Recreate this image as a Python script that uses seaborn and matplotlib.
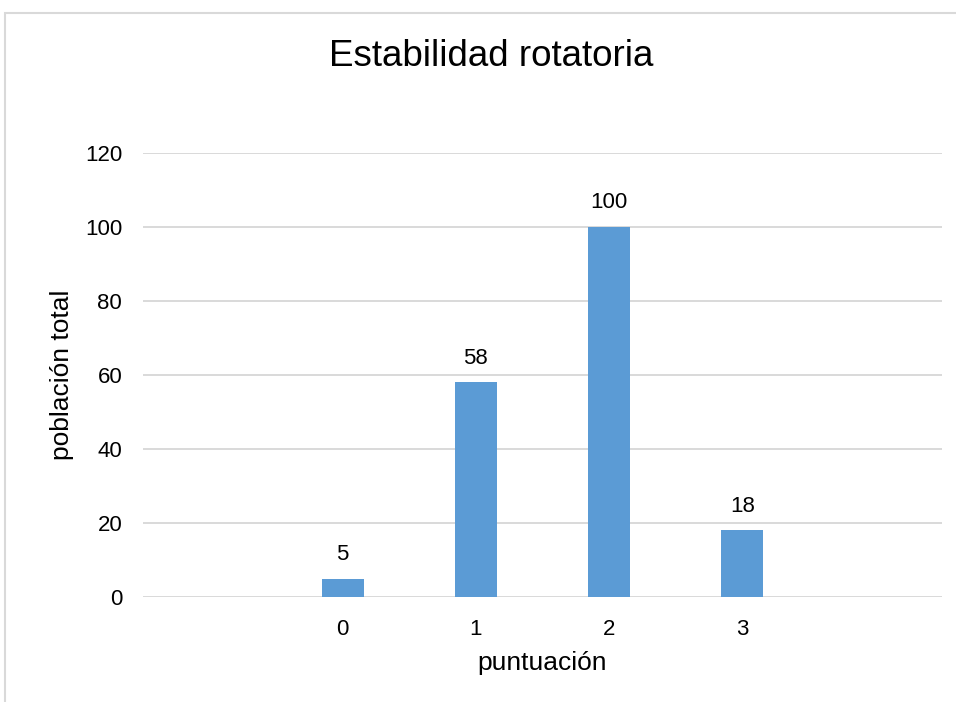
import numpy as np
import pandas as pd
import matplotlib
matplotlib.use("Agg")
import matplotlib.pyplot as plt
from matplotlib.patches import Rectangle
import seaborn as sns

# Scores (blank categories pad the axis on both sides) and population counts
categories = ["", "0", "1", "2", "3", " "]
counts = [np.nan, 5, 58, 100, 18, np.nan]
y_ticks = [0, 20, 40, 60, 80, 100, 120]

sns.set_theme(style="white")
plt.rcParams["font.family"] = ["Liberation Sans", "DejaVu Sans"]

df = pd.DataFrame({"puntuacion": categories, "poblacion": counts})

fig = plt.figure(figsize=(9.56, 7.02), dpi=100)
ax = fig.add_axes([143 / 956, 1 - 597 / 702, (942 - 143) / 956, (597 - 153) / 702])

sns.barplot(data=df, x="puntuacion", y="poblacion", order=categories,
            color="#5b9bd5", saturation=1, width=0.315, linewidth=0, ax=ax)

ax.set_ylim(0, 120)
ax.set_xlim(-0.5, len(categories) - 0.5)
ax.set_yticks(y_ticks)
ax.yaxis.grid(True, color="#d9d9d9", linewidth=1.4)
ax.set_axisbelow(True)
for s in ax.spines.values():
    s.set_visible(False)
ax.tick_params(axis="both", length=0, labelsize=16, colors="black")
ax.tick_params(axis="x", pad=16)
ax.tick_params(axis="y", pad=15)

for i, v in enumerate(counts):
    if not np.isnan(v):
        ax.annotate(f"{int(v)}", (i, v), xytext=(0, 10), textcoords="offset points",
                    ha="center", va="bottom", fontsize=16, color="black")

ax.set_xlabel("puntuación", fontsize=19, color="black", va="center")
ax.set_ylabel("población total", fontsize=19, color="black", va="center")
ax.xaxis.set_label_coords(0.5, (597 - 663) / 444)
ax.yaxis.set_label_coords((62 - 143) / 799, 0.5)

fig.text(491 / 956, 1 - 57 / 702, "Estabilidad rotatoria", ha="center", va="center",
         fontsize=26.5, color="black")

# Chart area frame
fig.patches.append(Rectangle((5 / 956, -0.1), 1.2, 1 - 13 / 702 + 0.1,
                             transform=fig.transFigure, fill=False,
                             edgecolor="#d9d9d9", linewidth=1.5))

fig.savefig("out.png", dpi=100)
